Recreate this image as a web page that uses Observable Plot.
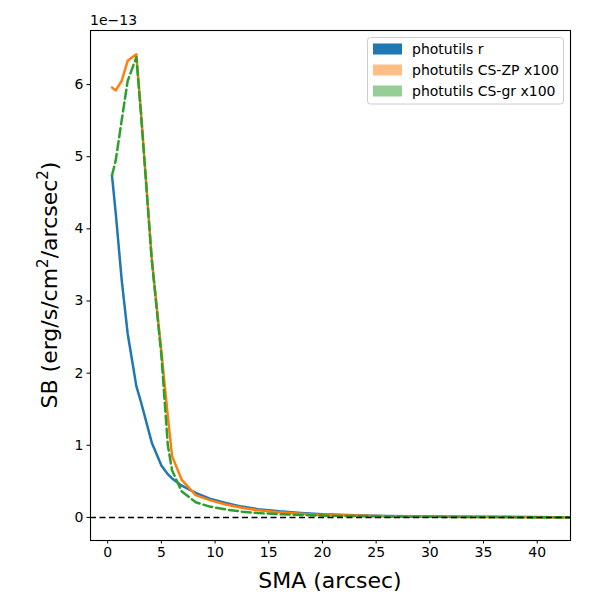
<!DOCTYPE html>
<html>
<head>
<meta charset="utf-8">
<script src="https://cdn.jsdelivr.net/npm/d3@7"></script>
<script src="https://cdn.jsdelivr.net/npm/@observablehq/plot@0.6"></script>
<style>
  body { margin: 0; background: #fff; }
  #chart { width: 600px; height: 600px; }
  svg { font-family: "DejaVu Sans", sans-serif; }
</style>
</head>
<body>
<div id="chart"></div>
<script>
// SMA in arcsec; SB in units of 1e-13 erg/s/cm^2/arcsec^2
const sma  = [0.4, 0.75, 1.3, 1.86, 2.67, 3.1, 4.1, 5.0, 5.6, 6.0, 6.9, 8.2, 9.5, 11, 12.5, 14, 16, 18, 20, 23, 26, 30, 34, 38, 42, 46];
const sbR  = [4.74, 4.22, 3.3, 2.55, 1.82, 1.6, 1.04, 0.72, 0.6, 0.54, 0.44, 0.34, 0.26, 0.2, 0.15, 0.115, 0.085, 0.062, 0.045, 0.03, 0.02, 0.013, 0.009, 0.006, 0.004, 0.003];
const sbZP = [5.96, 5.92, 6.05, 6.33, 6.42, 5.62, 3.59, 2.3, 1.4, 0.85, 0.52, 0.31, 0.24, 0.18, 0.135, 0.1, 0.07, 0.05, 0.035, 0.025, 0.017, 0.011, 0.007, 0.005, 0.003, 0.002];
const sbGR = [4.74, 4.95, 5.5, 6.05, 6.38, 5.6, 3.58, 2.25, 1.0, 0.65, 0.36, 0.21, 0.15, 0.11, 0.08, 0.06, 0.045, 0.035, 0.025, 0.018, 0.012, 0.008, 0.005, 0.004, 0.003, 0.002];
const seriesNames = ["photutils r", "photutils CS-ZP x100", "photutils CS-gr x100"];
const xTicks = [0, 5, 10, 15, 20, 25, 30, 35, 40];
const yTicks = [0, 1, 2, 3, 4, 5, 6];

const colors = ["#1f77b4", "#ff7f0e", "#2ca02c"];

const plot = Plot.plot({
  width: 600,
  height: 600,
  marginLeft: 90,
  marginRight: 30,
  marginTop: 30,
  marginBottom: 60,
  style: {fontFamily: "DejaVu Sans, sans-serif", background: "white", color: "black"},
  x: {domain: [-1.6, 43.1]},
  y: {domain: [-0.32, 6.75]},
  marks: [
    Plot.line(sbR, {x: sma, y: sbR, stroke: colors[0], strokeWidth: 2.5, clip: true}),
    Plot.line(sbZP, {x: sma, y: sbZP, stroke: colors[1], strokeWidth: 2.5, clip: true}),
    Plot.line(sbGR, {x: sma, y: sbGR, stroke: colors[2], strokeWidth: 2.5, strokeDasharray: "9,4", clip: true}),
    Plot.ruleY([0], {stroke: "black", strokeWidth: 1.5, strokeDasharray: "6,3.5"}),
    Plot.frame({stroke: "black", strokeWidth: 1.1}),
    Plot.axisX(xTicks, {tickSize: 3.5, tickPadding: 3.5, fontSize: 14, label: null, strokeWidth: 1, tickFormat: d3.format("d")}),
    Plot.axisY(yTicks, {tickSize: 3.5, tickPadding: 3.5, fontSize: 14, label: null, strokeWidth: 1, tickFormat: d3.format("d")})
  ]
});

document.getElementById("chart").appendChild(plot);

const svg = d3.select(plot);

// offset text
svg.append("text")
  .attr("x", 90).attr("y", 25)
  .attr("text-anchor", "start")
  .attr("font-size", 14)
  .attr("fill", "black")
  .text("1e\u221213");

// x label
svg.append("text")
  .attr("x", 330).attr("y", 588)
  .attr("text-anchor", "middle")
  .attr("font-size", 22)
  .attr("fill", "black")
  .text("SMA (arcsec)");

// y label with superscripts
const yl = svg.append("text")
  .attr("transform", "translate(57,285) rotate(-90)")
  .attr("text-anchor", "middle")
  .attr("font-size", 22)
  .attr("fill", "black");
yl.append("tspan").text("SB (erg/s/cm");
yl.append("tspan").attr("dy", -9).attr("font-size", 15).text("2");
yl.append("tspan").attr("dy", 9).text("/arcsec");
yl.append("tspan").attr("dy", -9).attr("font-size", 15).text("2");
yl.append("tspan").attr("dy", 9).text(")");

// legend
const lg = svg.append("g").attr("text-anchor", "start");
lg.append("rect")
  .attr("x", 367.5).attr("y", 37.5).attr("width", 196).attr("height", 66.5)
  .attr("rx", 3).attr("fill", "white").attr("fill-opacity", 0.8)
  .attr("stroke", "#cccccc").attr("stroke-width", 1);
const rowsY = [49, 70, 91];
const patchOpacity = [1, 0.5, 0.5];
seriesNames.forEach((name, i) => {
  lg.append("rect")
    .attr("x", 373).attr("y", rowsY[i] - 5.5).attr("width", 29).attr("height", 11)
    .attr("fill", colors[i]).attr("fill-opacity", patchOpacity[i]);
  lg.append("text")
    .attr("x", 412).attr("y", rowsY[i] + 5)
    .attr("text-anchor", "start")
    .attr("font-size", 14).attr("fill", "black")
    .text(name);
});
</script>
</body>
</html>
